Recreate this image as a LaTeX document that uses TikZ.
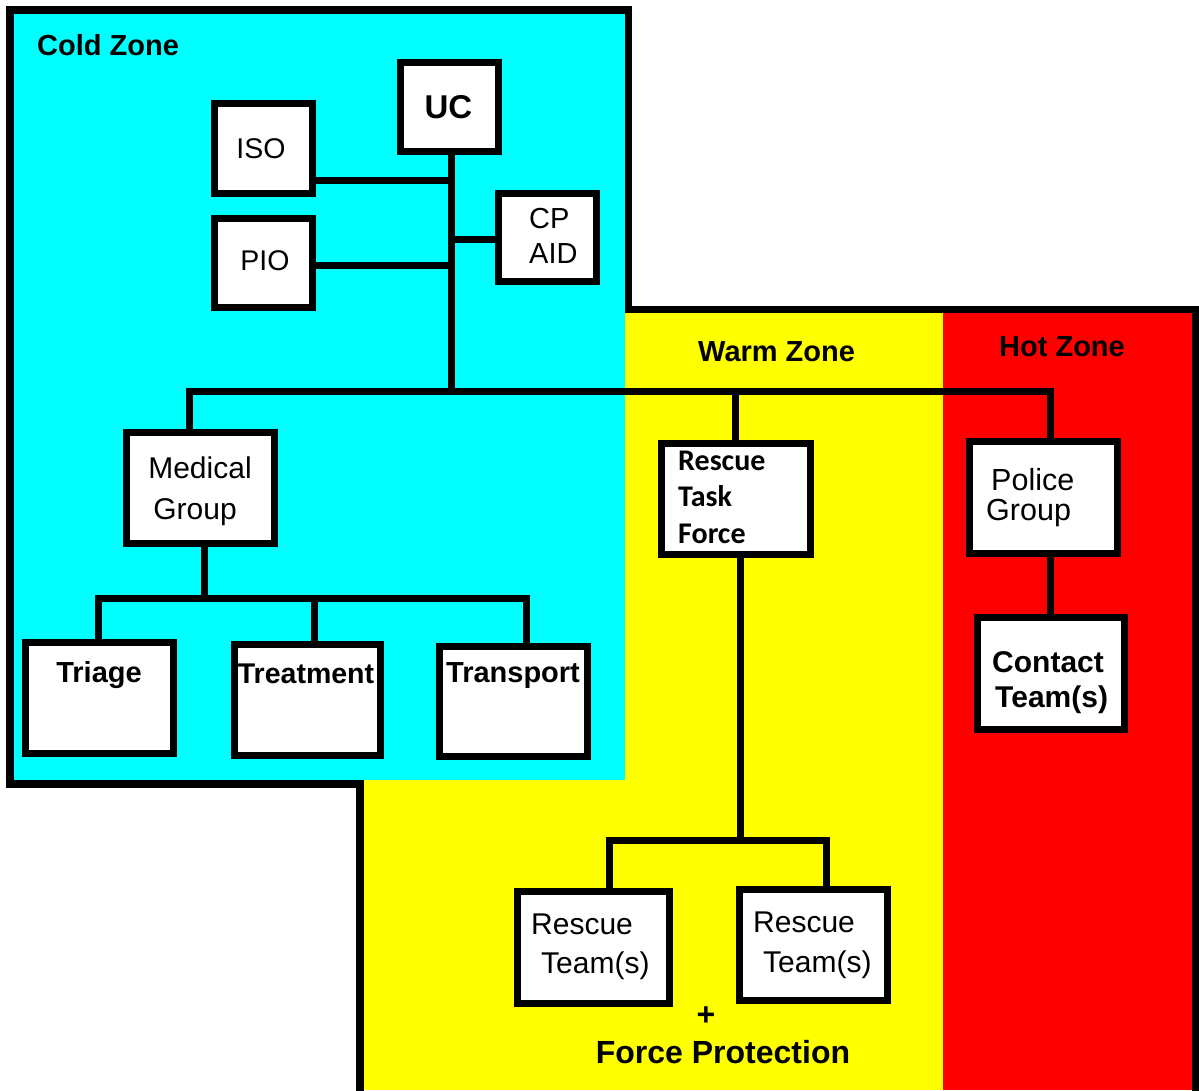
\documentclass[tikz,border=0pt]{standalone}
\usepackage{fontspec}
\setmainfont{Liberation Sans}
\newfontfamily\calibfont{Carlito}
\definecolor{zcyan}{RGB}{0,255,255}
\definecolor{zyellow}{RGB}{255,255,0}
\definecolor{zred}{RGB}{255,0,0}
\newcommand\zfs[1]{\fontsize{#1}{#1}\selectfont}
\begin{document}
\begin{tikzpicture}[x=1pt,y=-1pt,
  box/.style={draw=black, fill=white, line width=7pt, inner sep=0pt, outer sep=0pt, minimum width=148pt, minimum height=111pt},
  wire/.style={line width=7pt, line join=miter},
  txt/.style={inner sep=0pt, anchor=base west},
  ctxt/.style={inner sep=0pt, anchor=base}]
\useasboundingbox (0,0) rectangle (1199,1090);
\fill[white] (0,0) rectangle (1199,1090);
% zones
\fill[zyellow] (360,309.5) rectangle (943,1090);
\fill[zred] (943,309.5) rectangle (1199,1090);
\fill[zcyan] (10,10) rectangle (625,780);
\draw[line width=7.5pt, line join=miter] (360,1100) -- (360,784) -- (10,784) -- (10,10) -- (628.5,10) -- (628.5,309.5) -- (1196,309.5) -- (1196,1100);
% boxes
\node[box, minimum width=98pt, minimum height=89pt] (uc) at (449.5,107) {};
\node[box, minimum width=98pt, minimum height=90pt] (iso) at (263.5,148.5) {};
\node[box, minimum width=98pt, minimum height=89pt] (pio) at (263.5,263) {};
\node[box, minimum width=98pt, minimum height=88pt] (cp) at (547.5,237.5) {};
\node[box] (med) at (200.5,488) {};
\node[box, minimum width=149pt] (rtf) at (736,499) {};
\node[box, minimum height=112pt] (police) at (1043.5,497.5) {};
\node[box] (triage) at (99.5,698) {};
\node[box, minimum width=146pt] (treatment) at (307.5,700) {};
\node[box, minimum height=110pt] (transport) at (513.5,701.5) {};
\node[box, minimum width=147pt, minimum height=112pt] (contact) at (1051,673.5) {};
\node[box, minimum width=152pt, minimum height=112pt] (resL) at (593.5,947.5) {};
\node[box] (resR) at (813.5,945) {};
% connectors
\coordinate (isoJ) at (451,180);
\coordinate (pioJ) at (451,265);
\coordinate (cpJ) at (451,239);
\coordinate (busL) at (189,391.5);
\coordinate (busR) at (1050,391.5);
\coordinate (busM) at (451,391.5);
\coordinate (rtfT) at (735,391.5);
\draw[wire] (iso.east |- isoJ) -- (isoJ);
\draw[wire] (pio.east |- pioJ) -- (pioJ);
\draw[wire] (cp.west |- cpJ) -- (cpJ);
\draw[wire] (uc.south -| busM) -- (busM);
\draw[wire] (busL |- med.north) -- (busL) -- (busR) -- (busR |- police.north);
\draw[wire] (rtfT) -- (rtfT |- rtf.north);
\coordinate (medB) at (204,598);
\coordinate (mb1) at (98,598);
\coordinate (mb2) at (314,598);
\coordinate (mb3) at (526,598);
\draw[wire] (medB |- med.south) -- (medB);
\draw[wire] (mb1 |- triage.north) -- (mb1) -- (mb3) -- (mb3 |- transport.north);
\draw[wire] (mb2) -- (mb2 |- treatment.north);
\coordinate (rb) at (740,840);
\coordinate (rb1) at (609,840);
\coordinate (rb2) at (826,840);
\draw[wire] (rb |- rtf.south) -- (rb);
\draw[wire] (rb1 |- resL.north) -- (rb1) -- (rb2) -- (rb2 |- resR.north);
\coordinate (pc) at (1050,557);
\draw[wire] (pc |- police.south) -- (pc |- contact.north);
% zone titles
\node[txt, font=\bfseries\zfs{29}] (tcold) at (37,55) {Cold Zone};
\node[txt, font=\bfseries\zfs{29}] (twarm) at (698,361.5) {Warm Zone};
\node[txt, font=\bfseries\zfs{29}] (thot) at (999,356.5) {Hot Zone};
% box texts
\node[ctxt, font=\bfseries\zfs{33}] (tuc) at (448.5,118) {UC};
\node[ctxt, font=\zfs{28.5}] (tiso) at (261,158) {ISO};
\node[ctxt, font=\zfs{28.5}] (tpio) at (265,270) {PIO};
\node[txt, font=\zfs{29}] (tcp) at (529,228) {CP};
\node[txt, font=\zfs{29}] (taid) at (529,263) {AID};
\node[ctxt, font=\zfs{30}] (tmed1) at (200,478) {Medical};
\node[ctxt, font=\zfs{30}] (tmed2) at (195,519) {Group};
\node[txt, font=\calibfont\bfseries\zfs{30}] (trtf1) at (678,470) {Rescue};
\node[txt, font=\calibfont\bfseries\zfs{30}] (trtf2) at (678,506) {Task};
\node[txt, font=\calibfont\bfseries\zfs{30}] (trtf3) at (678,543) {Force};
\node[txt, font=\zfs{30.5}] (tpol1) at (991,490) {Police};
\node[txt, font=\zfs{30.5}] (tpol2) at (986,520) {Group};
\node[ctxt, font=\bfseries\zfs{29}] (ttri) at (99,682) {Triage};
\node[ctxt, font=\bfseries\zfs{28.5}] (ttre) at (306,683) {Treatment};
\node[ctxt, font=\bfseries\zfs{29}] (ttra) at (513,682) {Transport};
\node[txt, font=\bfseries\zfs{30}] (tcon1) at (992,672) {Contact};
\node[txt, font=\bfseries\zfs{30}] (tcon2) at (995,707) {Team(s)};
\node[txt, font=\zfs{30}] (trl1) at (531,934) {Rescue};
\node[txt, font=\zfs{30}] (trl2) at (541,973) {Team(s)};
\node[txt, font=\zfs{30}] (trr1) at (753,932) {Rescue};
\node[txt, font=\zfs{30}] (trr2) at (763,972) {Team(s)};
\node[inner sep=0pt, font=\bfseries\zfs{32}] (tplus) at (706,1016) {+};
\node[ctxt, font=\bfseries\zfs{32}] (tfp) at (723,1063) {Force Protection};
\end{tikzpicture}
\end{document}
